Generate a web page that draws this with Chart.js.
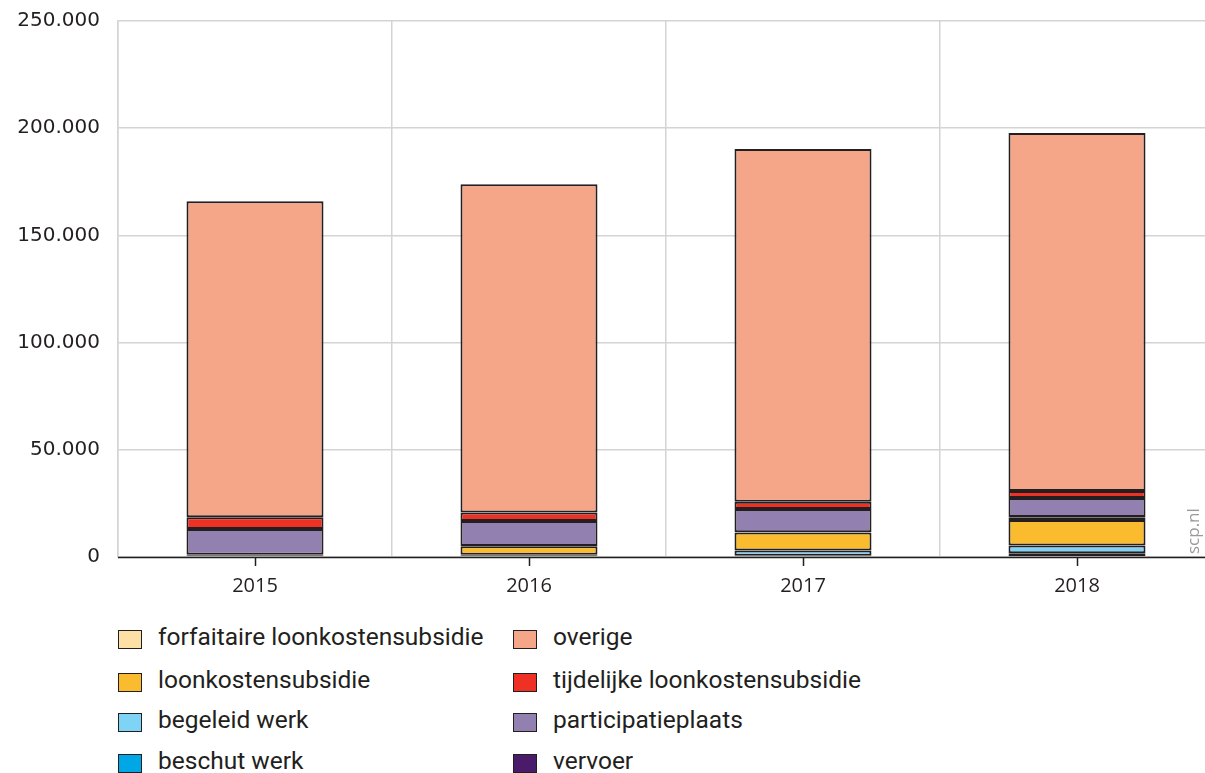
<!DOCTYPE html>
<html>
<head>
<meta charset="utf-8">
<script src="https://cdn.jsdelivr.net/npm/chart.js@4"></script>
<style>
  html, body { margin: 0; padding: 0; background: white; overflow: hidden; }
  #wrap { position: relative; width: 1214px; height: 600px; }
  #legend { position: relative; width: 1205px; height: 173px; font-family: 'Roboto', sans-serif; font-size: 24.5px; color: #231f20; }
  .item { position: absolute; height: 26px; line-height: 26px; white-space: nowrap; }
  .box { position: absolute; left: 0; top: 4px; width: 24px; height: 19px; border: 1.5px solid #231f20; box-sizing: border-box; }
  .lbl { position: absolute; left: 40px; top: -2px; }
</style>
</head>
<body>
<div id="wrap"><canvas id="scp_chart"></canvas></div>
<div id="legend"></div>
<script>
// Aantal banen per regeling, per jaar

var years = ['2015', '2016', '2017', '2018'];

// stapelvolgorde: van onder naar boven
var beschut_werk    = [800, 600, 600, 1800];
var begeleid_werk   = [200, 400, 2400, 3600];
var loonkosten      = [100, 4000, 8400, 11900];
var forfaitaire     = [0, 0, 0, 1000];
var vervoer         = [0, 100, 200, 300];
var participatie    = [12000, 11700, 10800, 8900];
var tijdelijke      = [5400, 4000, 3400, 3300];
var overige         = [147400, 153100, 164500, 167000];

var yTicks = [0, 50000, 100000, 150000, 200000, 250000];

var series = [
    { label: 'beschut werk',                  data: beschut_werk,  color: '#00a7e6' },
    { label: 'begeleid werk',                 data: begeleid_werk, color: '#7fd3f5' },
    { label: 'loonkostensubsidie',            data: loonkosten,    color: '#fbbb2e' },
    { label: 'forfaitaire loonkostensubsidie',data: forfaitaire,   color: '#fde0a6' },
    { label: 'vervoer',                       data: vervoer,       color: '#4a1a6b' },
    { label: 'participatieplaats',            data: participatie,  color: '#9281b0' },
    { label: 'tijdelijke loonkostensubsidie', data: tijdelijke,    color: '#ee3124' },
    { label: 'overige',                       data: overige,       color: '#f5a588' },
];

// legenda: twee kolommen, van boven naar beneden
var legendCols = [
    ['forfaitaire loonkostensubsidie', 'loonkostensubsidie', 'begeleid werk', 'beschut werk'],
    ['overige', 'tijdelijke loonkostensubsidie', 'participatieplaats', 'vervoer'],
];


function fmt(v) {
    return String(v).replace(/\B(?=(\d{3})+(?!\d))/g, '.');
}

// tick streepjes midden onder de staven + 'scp.nl'
var extras = {
    id: 'extras',
    afterDraw: function(chart) {
        var c = chart.ctx;
        var x = chart.scales.x, area = chart.chartArea;
        c.save();
        c.strokeStyle = '#231f20';
        c.lineWidth = 1.5;
        for (var i = 0; i < years.length; i++) {
            var px = Math.round(x.getPixelForValue(i)) + 0.5;
            c.beginPath();
            c.moveTo(px, area.bottom);
            c.lineTo(px, area.bottom + 9);
            c.stroke();
        }
        c.beginPath();
        c.moveTo(area.left, area.bottom + 0.5);
        c.lineTo(area.right, area.bottom + 0.5);
        c.stroke();

        c.translate(1194, area.bottom - 3);
        c.rotate(-Math.PI / 2);
        c.fillStyle = '#9a9a9a';
        c.font = "17px 'Open Sans', sans-serif";
        c.textBaseline = 'middle';
        c.fillText('scp.nl', 0, 0);
        c.restore();
    }
};

var ctx = document.getElementById('scp_chart').getContext('2d');

var scp_chart = new Chart(ctx, {
    type: 'bar',
    data: {
        labels: years,
        datasets: series.map(function(s) {
            return {
                label: s.label,
                data: s.data,
                backgroundColor: s.color,
                borderColor: '#231f20',
                borderWidth: 2,
                borderSkipped: false,
                categoryPercentage: 1.0,
                barPercentage: 0.5,
            };
        }),
    },
    options: {
        responsive: true,
        maintainAspectRatio: false,
        animation: false,
        layout: { padding: { top: 21, right: 0, left: 0, bottom: 0 } },
        plugins: {
            legend: { display: false },
            tooltip: { enabled: false },
        },
        scales: {
            x: {
                stacked: true,
                grid: { color: '#d4d4d4', lineWidth: 1.5, drawTicks: false, offset: true },
                border: { display: false },
                ticks: {
                    color: '#231f20',
                    padding: 17,
                    font: { family: "'Open Sans', sans-serif", size: 20 },
                },
                afterFit: function(scale) { scale.height = 43; scale.paddingLeft = 0; scale.paddingRight = 0; },
            },
            y: {
                stacked: true,
                min: 0,
                max: 250000,
                afterBuildTicks: function(scale) {
                    scale.ticks = yTicks.map(function(v) { return { value: v }; });
                },
                grid: { color: '#d4d4d4', lineWidth: 1.5, drawTicks: false },
                border: { color: '#d4d4d4', width: 1.5 },
                ticks: {
                    color: '#231f20',
                    padding: 18,
                    font: { family: "'DejaVu Sans', sans-serif", size: 20 },
                    callback: function(v) { return fmt(v); },
                },
                afterFit: function(scale) { scale.width = 118; scale.paddingTop = 0; scale.paddingBottom = 0; },
            },
        },
    },
    plugins: [extras],
});


// HTML legenda
var legend = document.getElementById('legend');
var colX = [118, 513];
var rowY = [26, 69, 109, 150];
legendCols.forEach(function(col, ci) {
    col.forEach(function(name, ri) {
        var s = series.find(function(d) { return d.label === name; });
        var item = document.createElement('div');
        item.className = 'item';
        item.style.left = colX[ci] + 'px';
        item.style.top = rowY[ri] + 'px';
        item.innerHTML = '<span class="box" style="background:' + s.color + '"></span><span class="lbl">' + name + '</span>';
        legend.appendChild(item);
    });
});
</script>
</body>
</html>
